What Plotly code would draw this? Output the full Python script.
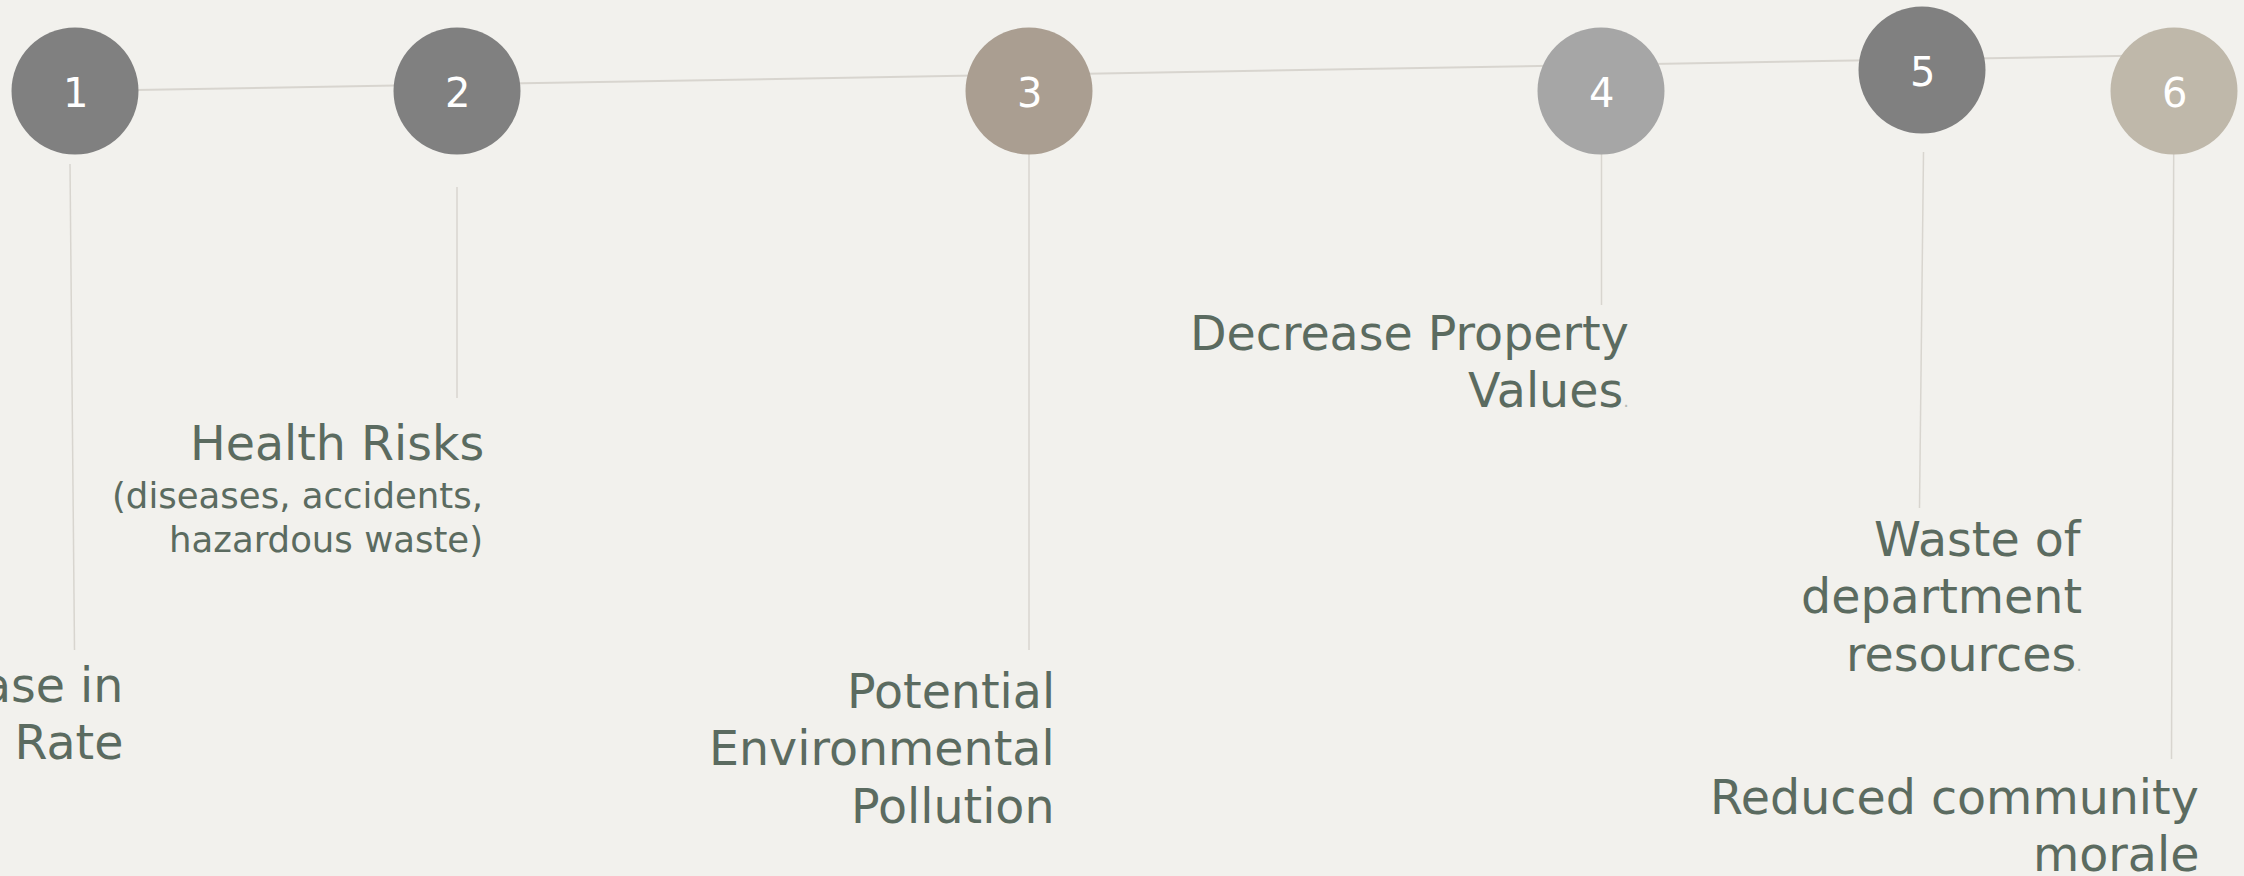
import plotly.graph_objects as go

# ---------------- data ----------------
step_numbers = ["1", "2", "3", "4", "5", "6"]
timeline_pos = [75, 457, 1029, 1601, 1922, 2174]      # position of each step on the timeline
step_level = [91, 91, 91, 91, 70, 91]                 # vertical level of each step
step_colors = ["#808080", "#808080", "#AA9E91", "#A6A6A6", "#808080", "#BFB8AA"]

# trend line connecting the steps
trend_x = [75, 2200]
trend_y = [91, 54.6]

# leader lines (top -> bottom)
leader_x_top = [70, 457, 1029, 1601.5, 1923.5, 2173.7]
leader_y_top = [164, 187, 154, 154, 152, 154]
leader_x_bot = [74.5, 457, 1029, 1601.5, 1919.5, 2171.5]
leader_y_bot = [650, 398, 650, 305, 508, 759]

# labels: list of lines, right edge, baselines
label_lines = [
    ["Increase in", "Crime Rate"],
    ["Health Risks"],
    ["Potential", "Environmental", "Pollution"],
    ["Decrease Property", "Values."],
    ["Waste of", "department", "resources."],
    ["Reduced community", "morale"],
]
label_right = [121, 482, 1053, 1627, 2080, 2197]
label_baselines = [
    [702, 759],
    [460],
    [708, 765, 822.7],
    [350, 407.3],
    [556, 612.7, 670.7],
    [814, 870.7],
]
sub_lines = ["(diseases, accidents,", "hazardous waste)"]
sub_right = 482
sub_baselines = [507.7, 551.7]

# ---------------- style ----------------
BG = "#F2F1ED"
TEXT = "#5B6B60"
LINE = "#D8D5CF"
FONT = "DejaVu Sans"
MAIN_FS = 47.5
SUB_FS = 35.5

fig = go.Figure()

fig.add_trace(go.Scatter(x=trend_x, y=trend_y, mode="lines",
                         line=dict(color=LINE, width=2), hoverinfo="skip"))

for xt, yt, xb, yb in zip(leader_x_top, leader_y_top, leader_x_bot, leader_y_bot):
    fig.add_trace(go.Scatter(x=[xt, xb], y=[yt, yb], mode="lines",
                             line=dict(color=LINE, width=1.5), hoverinfo="skip"))

fig.add_trace(go.Scatter(
    x=timeline_pos, y=step_level, mode="markers",
    marker=dict(size=127, color=step_colors, line=dict(width=0)),
    hoverinfo="skip"))


def fmt(t):
    if t.endswith("."):
        return t[:-1] + "<span style='color:#B5BBB6;font-size:18px'>.</span>"
    return t


annotations = []
for n, x, y in zip(step_numbers, timeline_pos, step_level):
    annotations.append(dict(
        x=x, y=y, xref="x", yref="y", text=n, showarrow=False,
        xanchor="center", yanchor="middle", yshift=-2, borderpad=0,
        font=dict(family=FONT, size=40, color="white")))

for lines, xr, bls in zip(label_lines, label_right, label_baselines):
    for t, b in zip(lines, bls):
        annotations.append(dict(
            x=xr, y=b - 0.346 * MAIN_FS, xref="x", yref="y",
            text=fmt(t), showarrow=False, xanchor="right", yanchor="middle",
            align="right", borderpad=0, xshift=3,
            font=dict(family=FONT, size=MAIN_FS, color=TEXT)))
for t, b in zip(sub_lines, sub_baselines):
    annotations.append(dict(
        x=sub_right, y=b - 0.346 * SUB_FS, xref="x", yref="y",
        text=t, showarrow=False, xanchor="right", yanchor="middle",
        align="right", borderpad=0, xshift=2,
        font=dict(family=FONT, size=SUB_FS, color=TEXT)))

fig.update_layout(
    width=2244, height=876,
    margin=dict(l=0, r=0, t=0, b=0, pad=0),
    paper_bgcolor=BG, plot_bgcolor=BG,
    showlegend=False,
    xaxis=dict(range=[0, 2244], visible=False, fixedrange=True),
    yaxis=dict(range=[876, 0], visible=False, fixedrange=True),
    annotations=annotations,
)

fig.write_html("out.html", config={"displayModeBar": False},
               post_script="document.body.style.margin='0';document.body.style.overflow='hidden';")
